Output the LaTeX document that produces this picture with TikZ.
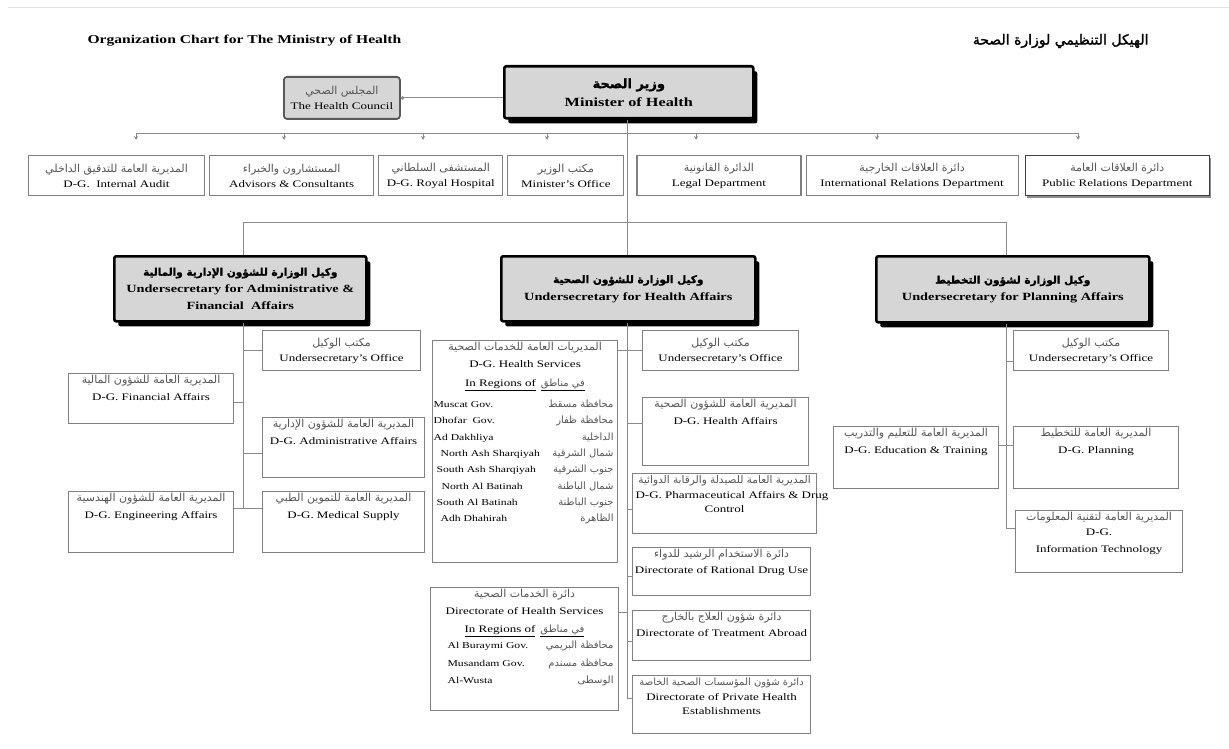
\documentclass[tikz,border=0pt]{standalone}
\usepackage{fontspec}
\setmainfont{Liberation Serif}[FakeStretch=1.3]
\newfontfamily\arabicfont[Script=Arabic]{DejaVu Sans}
\newfontfamily\arabicbold[Script=Arabic,FakeBold=1.5]{DejaVu Sans}
\TeXXeTstate=1
\usetikzlibrary{arrows.meta,positioning,calc,shadows}
\definecolor{mohgrey}{HTML}{D6D6D6}
\definecolor{mohline}{HTML}{8A8A8A}
\definecolor{mohtext}{HTML}{555555}
\newcommand{\ar}[2][11]{\mbox{\arabicfont\fontsize{#1}{10}\selectfont\color{mohtext}\beginR #2\endR}}
\newcommand{\arb}[2][10.5]{\mbox{\arabicbold\fontsize{#1}{10}\selectfont\beginR #2\endR}}
\newcommand{\bx}[3]{\parbox[c][#2pt][c]{#1pt}{\centering #3}}
\newcommand{\bxt}[3]{\parbox[c][#2pt][t]{#1pt}{\fontsize{10}{17}\selectfont\centering\rule{0pt}{10pt}#3}}
\tikzset{
  box/.style     = {draw=black!50, line width=1.1pt, fill=white, inner sep=0pt,
                    font=\fontsize{10}{15}\selectfont},
  head/.style    = {box, draw=black, line width=2.6pt, fill=mohgrey, rounded corners=2pt,
                    font=\fontsize{11}{17}\selectfont\bfseries,
                    drop shadow={shadow xshift=4pt, shadow yshift=-5pt, fill=black, opacity=1}},
  council/.style = {box, draw=black!65, line width=1.8pt, fill=mohgrey, rounded corners=3pt},
  prbox/.style   = {box, draw=black!75, line width=1.4pt,
                    drop shadow={shadow xshift=1.5pt, shadow yshift=-2pt, fill=black!45, opacity=1}},
  link/.style    = {draw=mohline, line width=0.9pt},
  tick/.style    = {link, -{Stealth[length=4pt, width=4pt]}},
  dot/.style     = {link, -{Circle[length=3.5pt]}},
}

\begin{document}
\begin{tikzpicture}[x=1pt, y=-1pt]
  \useasboundingbox (0,0) rectangle (1229,749);
  \draw[black!12, line width=1pt] (8,8) -- (1229,8);
  % titles
  \node[anchor=west, font=\fontsize{12}{14}\selectfont\bfseries] (title) at (84,41)
    {Organization Chart for The Ministry of Health};
  \node[anchor=east] (titlear) at (1152,41) {\arb[14]{الهيكل التنظيمي لوزارة الصحة}};
  % minister and council
  \node[head, anchor=north west, font=\fontsize{12.5}{18}\selectfont\bfseries] (minister) at (503,65)
    {\bx{249}{52}{\arb[13]{وزير الصحة}\\Minister of Health}};
  \node[council, anchor=north west] (council) at (283,76)
    {\bx{116}{42}{\ar{المجلس الصحي}\\The Health Council}};
  \draw[dot] (council.east -| minister.west) -- (council.east);
  % offices under the minister
  \node[box, anchor=north west] (audit) at (28,155)
    {\bx{176}{40}{\ar{المديرية العامة للتدقيق الداخلي}\\D-G.\ \ Internal Audit}};
  \node[box, right=4pt of audit] (advisors)
    {\bx{164}{40}{\ar{المستشارون والخبراء}\\Advisors \& Consultants}};
  \node[box, right=4pt of advisors] (royal)
    {\bx{124}{40}{\ar{المستشفى السلطاني}\\D-G. Royal Hospital}};
  \node[box, right=4pt of royal] (moffice)
    {\bx{116}{40}{\ar{مكتب الوزير}\\Minister's Office}};
  \node[box, right=12pt of moffice] (legal)
    {\bx{164}{40}{\ar{الدائرة القانونية}\\Legal Department}};
  \node[box, right=4pt of legal] (intrel)
    {\bx{212}{40}{\ar{دائرة العلاقات الخارجية}\\International Relations Department}};
  \node[prbox, right=6pt of intrel] (pubrel)
    {\bx{184}{40}{\ar{دائرة العلاقات العامة}\\Public Relations Department}};
  \coordinate (busl) at (136,133);
  \coordinate (busr) at (1078,133);
  \draw[link] (busl) -- (busr);
  \foreach \x in {136,284,423,547,696,877,1078}
    \draw[tick] (\x,133) -- ++(0,7);
  % undersecretaries
  \node[head, anchor=north west] (usaf) at (113,255)
    {\bx{252}{65}{\arb{وكيل الوزارة للشؤون الإدارية والمالية}\\Undersecretary for Administrative \&\\Financial\ \ Affairs}};
  \node[head, anchor=north west] (usha) at (500,255)
    {\bx{254}{65}{\arb{وكيل الوزارة للشؤون الصحية}\\Undersecretary for Health Affairs}};
  \node[head, anchor=north west] (uspa) at (875,255)
    {\bx{273}{66}{\arb{وكيل الوزارة لشؤون التخطيط}\\Undersecretary for Planning Affairs}};
  \coordinate (lsp) at (243,222);
  \coordinate (msp) at (627,222);
  \coordinate (rsp) at (1006,222);
  \draw[link] (msp |- minister.south) -- (msp |- usha.north);
  \draw[link] (lsp) -- (rsp);
  \draw[link] (lsp) -- (lsp |- usaf.north);
  \draw[link] (rsp) -- (rsp |- uspa.north);
  % administrative and financial affairs
  \node[box, anchor=north west] (lof) at (262,330)
    {\bx{158}{40}{\ar{مكتب الوكيل}\\Undersecretary's Office}};
  \node[box, anchor=north west] (dgfin) at (68,373)
    {\bxt{165}{50}{\ar{المديرية العامة للشؤون المالية}\\D-G. Financial Affairs}};
  \node[box, anchor=north west] (dgadm) at (262,417)
    {\bxt{162}{60}{\ar{المديرية العامة للشؤون الإدارية}\\D-G. Administrative Affairs}};
  \node[box, anchor=north west] (dgeng) at (68,491)
    {\bxt{165}{61}{\ar{المديرية العامة للشؤون الهندسية}\\D-G. Engineering Affairs}};
  \node[box, anchor=north west] (dgmed) at (262,491)
    {\bxt{162}{61}{\ar{المديرية العامة للتموين الطبي}\\D-G. Medical Supply}};
  \draw[link] (lsp |- usaf.south) -- ([yshift=-17pt]dgeng.north east -| lsp);
  \draw[link] (lof.west) -- (lof.west -| lsp);
  \draw[link] ([yshift=-29pt]dgfin.north east) -- ([yshift=-29pt]dgfin.north east -| lsp);
  \draw[link] ([yshift=-36pt]dgadm.north west) -- ([yshift=-36pt]dgadm.north west -| lsp);
  \draw[link] ([yshift=-17pt]dgeng.north east) -- ([yshift=-17pt]dgmed.north west);
  % health affairs
  \node[box, anchor=north west] (hs) at (432,340)
    {\bxt{185}{222}{\rule{0pt}{3pt}\ar{المديريات العامة للخدمات الصحية}\\
      D-G. Health Services\\[2pt]
      \underline{In Regions of}\hspace{5pt}\underline{\ar[10]{في مناطق}}\\[4pt]
      \fontsize{9}{17}\selectfont\renewcommand\arraystretch{0.96}%
      \begin{tabular*}{\linewidth}[t]{@{\hspace{1pt}}l@{\extracolsep{\fill}}r@{\hspace{4pt}}}
        Muscat Gov. & \ar[10]{محافظة مسقط}\\
        Dhofar\ \ Gov. & \ar[10]{محافظة ظفار}\\
        Ad Dakhliya & \ar[10]{الداخلية}\\
        \hspace*{7pt}North Ash Sharqiyah & \ar[10]{شمال الشرقية}\\
        \hspace*{3pt}South Ash Sharqiyah & \ar[10]{جنوب الشرقية}\\
        \hspace*{8pt}North Al Batinah & \ar[10]{شمال الباطنة}\\
        \hspace*{3pt}South Al Batinah & \ar[10]{جنوب الباطنة}\\
        \hspace*{7pt}Adh Dhahirah & \ar[10]{الظاهرة}
      \end{tabular*}}};
  \node[box, anchor=north west] (mof) at (642,330)
    {\bx{156}{40}{\ar{مكتب الوكيل}\\Undersecretary's Office}};
  \node[box, anchor=north west] (dgha) at (642,397)
    {\bxt{166}{68}{\ar{المديرية العامة للشؤون الصحية}\\D-G. Health Affairs}};
  \node[box, anchor=north west] (dgph) at (632,473)
    {\bxt{184}{60}{\ar[10.5]{المديرية العامة للصيدلة والرقابة الدوائية}\\[-2pt]\makebox[\linewidth][l]{\hspace{3pt}D-G. Pharmaceutical Affairs \& Drug}\\[-3pt]Control}};
  \node[box, anchor=north west] (rdu) at (632,547)
    {\bxt{178}{48}{\ar{دائرة الاستخدام الرشيد للدواء}\\[-1pt]Directorate of Rational Drug Use}};
  \node[box, anchor=north west] (dhs) at (430,587)
    {\bxt{188}{123}{\rule{0pt}{3pt}\ar{دائرة الخدمات الصحية}\\
      Directorate of Health Services\\[1pt]
      \underline{In Regions of}\hspace{5pt}\underline{\ar[10]{في مناطق}}\\[-1pt]
      \fontsize{9}{17}\selectfont\renewcommand\arraystretch{1.03}%
      \begin{tabular*}{\linewidth}[t]{@{\hspace{17pt}}l@{\extracolsep{\fill}}r@{\hspace{5pt}}}
        Al Buraymi Gov. & \ar[10]{محافظة البريمي}\\
        Musandam Gov. & \ar[10]{محافظة مسندم}\\
        Al-Wusta & \ar[10]{الوسطى}
      \end{tabular*}}};
  \node[box, anchor=north west] (abr) at (632,610)
    {\bxt{178}{50}{\ar{دائرة شؤون العلاج بالخارج}\\[-1pt]Directorate of Treatment Abroad}};
  \node[box, anchor=north west] (peh) at (632,675)
    {\bxt{178}{58}{\ar[10]{دائرة شؤون المؤسسات الصحية الخاصة}\\[-2pt]Directorate of Private Health\\[-3pt]Establishments}};
  \draw[link] (msp |- usha.south) -- ([yshift=-23pt]peh.north west -| msp);
  \draw[link] (hs.east |- mof.west) -- (mof.west);
  \draw[link] ([yshift=-26pt]dgha.north west) -- ([yshift=-26pt]dgha.north west -| msp);
  \draw[link] ([yshift=-36pt]dgph.north west) -- ([yshift=-36pt]dgph.north west -| msp);
  \draw[link] ([yshift=-29pt]rdu.north west) -- ([yshift=-29pt]rdu.north west -| msp);
  \draw[link] ([yshift=-25pt]dhs.north east) -- ([yshift=-25pt]dhs.north east -| msp);
  \draw[link] ([yshift=-31pt]abr.north west) -- ([yshift=-31pt]abr.north west -| msp);
  \draw[link] ([yshift=-23pt]peh.north west) -- ([yshift=-23pt]peh.north west -| msp);
  % planning affairs
  \node[box, anchor=north west] (rof) at (1013,330)
    {\bx{155}{40}{\ar{مكتب الوكيل}\\Undersecretary's Office}};
  \node[box, anchor=north west] (dged) at (833,426)
    {\bxt{165}{62}{\ar{المديرية العامة للتعليم والتدريب}\\D-G. Education \& Training}};
  \node[box, anchor=north west] (dgpl) at (1013,426)
    {\bxt{165}{62}{\ar{المديرية العامة للتخطيط}\\D-G. Planning}};
  \node[box, anchor=north west] (dgit) at (1015,510)
    {\bxt{167}{62}{\ar{المديرية العامة لتقنية المعلومات}\\[-2pt]D-G.\\Information Technology}};
  \draw[link] (rsp |- uspa.south) -- ([yshift=-18pt]dgit.north west -| rsp);
  \draw[link] ([yshift=-31pt]rof.north west) -- ([yshift=-31pt]rof.north west -| rsp);
  \draw[link] ([yshift=-19pt]dged.north east) -- ([yshift=-19pt]dgpl.north west);
  \draw[link] ([yshift=-18pt]dgit.north west) -- ([yshift=-18pt]dgit.north west -| rsp);
\end{tikzpicture}
\end{document}
